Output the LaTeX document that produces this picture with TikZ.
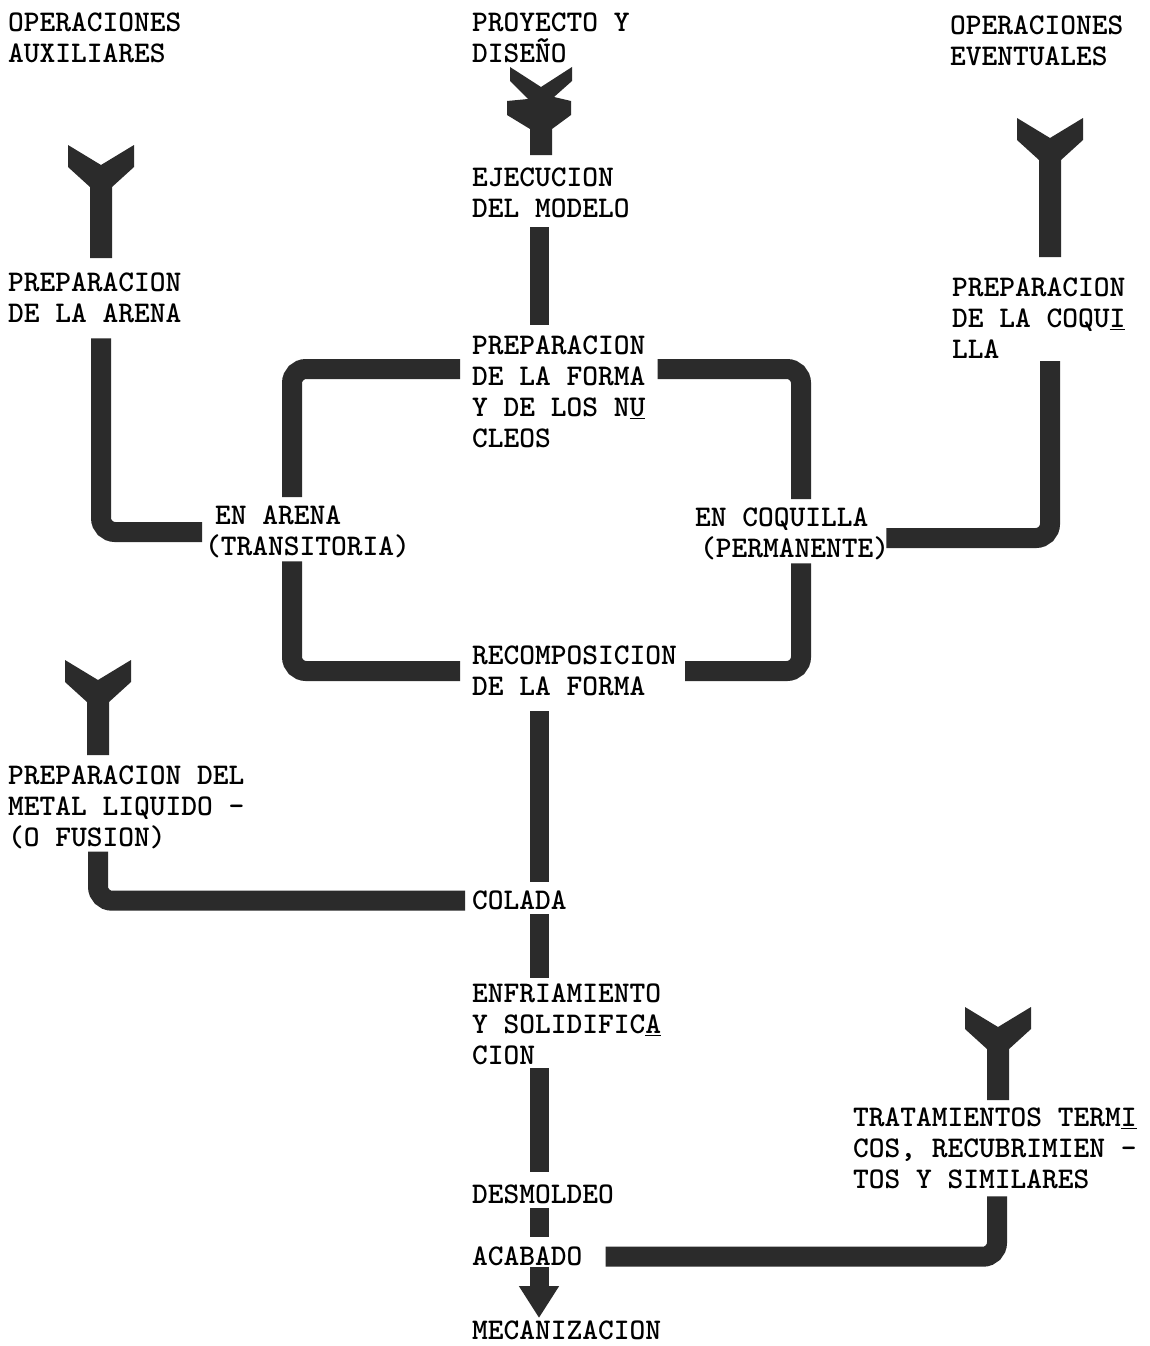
\documentclass[tikz,border=0pt]{standalone}
\usetikzlibrary{arrows.meta}
\definecolor{barcol}{gray}{0.17}
\newcommand\uln[1]{\underline{#1}}
\newcommand\ymark[3]{\fill[barcol,shift={(#1,#2)}] (-33,0) -- (0,20) -- (33,0) -- (33,22) -- (11,42) -- (11,#3) -- (-11,#3) -- (-11,42) -- (-33,22) -- cycle;}
\begin{document}
\begin{tikzpicture}[x=1pt,y=-1pt,
  txt/.style={font=\fontsize{30}{31}\selectfont\ttfamily\bfseries, align=left, inner sep=0pt, anchor=north west},
  bar/.style={draw=barcol, line width=20pt, rounded corners=14pt},
  colbar/.style={draw=barcol, line width=19pt}]
\useasboundingbox[fill=white] (0,0) rectangle (1149,1346);

% texts
\node[txt] (opaux) at (8,13) {OPERACIONES\\AUXILIARES};
\node[txt] (proy) at (472,13) {PROYECTO Y\\DISEÑO};
\node[txt] (opev) at (950,16) {OPERACIONES\\EVENTUALES};
\node[txt] (ejec) at (472,168) {EJECUCION\\DEL MODELO};
\node[txt] (parena) at (8,273) {PREPARACION\\DE LA ARENA};
\node[txt] (pforma) at (472,336) {PREPARACION\\DE LA FORMA\\Y DE LOS N\uln{U}\\CLEOS};
\node[txt] (pcoq) at (952,278) {PREPARACION\\DE LA COQU\uln{I}\\LLA};
\node[txt] (arena) at (205,506) {\hspace*{10pt}EN ARENA\\(TRANSITORIA)};
\node[txt] (coq) at (695,508) {EN COQUILLA\\\hspace*{5pt}(PERMANENTE)};
\node[txt] (recomp) at (472,646) {RECOMPOSICION\\DE LA FORMA};
\node[txt] (metal) at (8,766) {PREPARACION DEL\\METAL LIQUIDO -\\(O FUSION)};
\node[txt] (colada) at (472,891) {COLADA};
\node[txt] (enfr) at (472,984) {ENFRIAMIENTO\\Y SOLIDIFIC\uln{A}\\CION};
\node[txt] (trat) at (853,1108) {TRATAMIENTOS TERM\uln{I}\\COS, RECUBRIMIEN -\\TOS Y SIMILARES};
\node[txt] (desm) at (472,1185) {DESMOLDEO};
\node[txt] (acab) at (472,1247) {ACABADO};
\node[txt] (mec) at (472,1321) {MECANIZACION};

% helper coordinates
\coordinate (cx) at (539,0);
\coordinate (xa) at (101,0);
\coordinate (xm) at (98,0);
\coordinate (xe) at (1050,0);
\coordinate (xt) at (997,0);
\coordinate (xl) at (292,0);
\coordinate (xr) at (801,0);
\coordinate (yb1) at (0,369);
\coordinate (yb2) at (0,671);
\coordinate (ya) at (0,532);
\coordinate (ye) at (0,538);

% Y-shaped input marks
\ymark{101}{145}{113}
\ymark{1050}{118}{139}
\ymark{98}{660}{95}
\ymark{998}{1007}{93}
\fill[barcol,shift={(541,67)}] (-31,0) -- (0,20) -- (31,0) -- (31,14) -- (13,30) -- (30,34) -- (30,48) -- (11,62) -- (11,88) -- (-11,88) -- (-11,62) -- (-34,48) -- (-34,34) -- (-13,32) -- (-31,14) -- cycle;

% main column
\draw[colbar] ([yshift=-9pt]ejec.south -| cx) -- ([yshift=11pt]pforma.north -| cx);
\draw[colbar] ([yshift=-15pt]recomp.south -| cx) -- ([yshift=9pt]colada.north -| cx);
\draw[colbar] ([yshift=-4pt]colada.south -| cx) -- ([yshift=6pt]enfr.north -| cx);
\draw[colbar] ([yshift=-3pt]enfr.south -| cx) -- ([yshift=13pt]desm.north -| cx);
\draw[colbar] ([yshift=-4pt]desm.south -| cx) -- ([yshift=10pt]acab.north -| cx);
\draw[colbar, -{Triangle[width=38pt,length=32pt]}] ([yshift=-1pt]acab.south -| cx) -- ([yshift=3pt]mec.north -| cx);

% mould loop
\draw[bar] ([xshift=-12pt]pforma.west |- yb1) -| ([yshift=9pt]xl |- arena.north);
\draw[bar] ([xshift=12pt]pforma.east |- yb1) -| ([yshift=9pt]xr |- coq.north);
\draw[bar] ([yshift=-3pt]xl |- arena.south) |- ([xshift=-12pt]recomp.west |- yb2);
\draw[bar] ([yshift=-3pt]xr |- coq.south) |- ([xshift=8pt]recomp.east |- yb2);

% side inputs
\draw[bar] ([yshift=-15pt]xa |- parena.south) |- ([xshift=-3pt]arena.west |- ya);
\draw[bar] ([yshift=-2pt]xe |- pcoq.south) |- ([xshift=-3pt]coq.east |- ye);
\draw[bar] ([yshift=-2pt]xm |- metal.south) |- ([xshift=-7pt]colada.west);
\draw[bar] ([yshift=-7pt]xt |- trat.south) |- ([xshift=23pt]acab.east);
\end{tikzpicture}
\end{document}
